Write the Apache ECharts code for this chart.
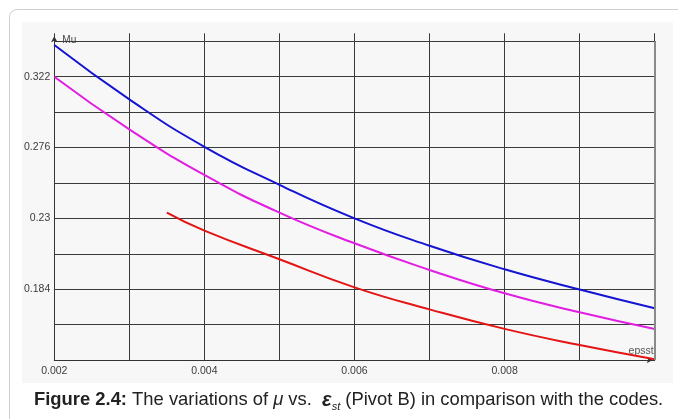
<!DOCTYPE html>
<html><head><meta charset="utf-8">
<script src="https://cdn.jsdelivr.net/npm/echarts@6/dist/echarts.min.js"></script>
<style>
html,body{margin:0;padding:0;background:#fff;width:678px;height:419px;overflow:hidden;}
#card{position:absolute;left:9px;top:9px;width:720px;height:460px;border:1px solid #cfcfcf;border-radius:8px;box-sizing:border-box;}
#panel{position:absolute;left:22px;top:22px;width:651px;height:361px;background:#f7f7f7;}
#chart{position:absolute;left:0;top:0;width:678px;height:419px;}
</style></head><body>
<div id="card"></div><div id="panel"></div><div id="chart"></div>
<script>
// x values (epsst)
const epsGrid = [0.002, 0.003, 0.004, 0.005, 0.006, 0.007, 0.008, 0.009, 0.010];
const blueMu = [0.3426, 0.3073, 0.2765, 0.2518, 0.2300, 0.2122, 0.1969, 0.1838, 0.1716];
const magentaMu = [0.3220, 0.2878, 0.2582, 0.2337, 0.2138, 0.1965, 0.1813, 0.1690, 0.1581];
const redEps = [0.0035, 0.004, 0.005, 0.006, 0.007, 0.008, 0.009, 0.010];
const redMu = [0.2337, 0.2220, 0.2034, 0.1852, 0.1709, 0.1582, 0.1477, 0.1385];
const xTickLabels = ['0.002', '0.004', '0.006', '0.008'];
const yTickLabels = ['0.184', '0.23', '0.276', '0.322'];
const majorX = [0.004, 0.008];
const edgeX = [0.010];
const xName = 'epsst';
const yName = 'Mu';

const xFmt = v => { const s = (Math.round(v * 1000) / 1000).toFixed(3); return xTickLabels.includes(s) ? s : ''; };
const yFmt = v => { const s = String(parseFloat(v.toFixed(3))); return yTickLabels.includes(s) ? s : ''; };

const chart = echarts.init(document.getElementById('chart'), null, {renderer: 'canvas'});
const FF = 'Liberation Sans, Arial, sans-serif';
const lbl = {fontFamily: FF, fontSize: 10.5, color: '#3c3c3c'};
const cap = {fontFamily: FF, fontSize: 18.4, color: '#222', lineHeight: 24, verticalAlign: 'middle', fontWeight: 'normal', fontStyle: 'normal'};
chart.setOption({
  backgroundColor: 'transparent',
  animation: false,
  title: {
    text: '{b|Figure 2.4:}{n| The variations of }{i|μ}{n| vs.  }{e|ε}{s|st}{n| (Pivot B) in comparison with the codes.}',
    left: 34, top: 388, padding: 0,
    textStyle: {
      fontWeight: 'normal',
      rich: {
        b: Object.assign({}, cap, {fontWeight: 'bold'}),
        n: Object.assign({}, cap),
        i: Object.assign({}, cap, {fontStyle: 'italic'}),
        e: Object.assign({}, cap, {fontStyle: 'italic', fontWeight: 'bold', fontSize: 20}),
        s: Object.assign({}, cap, {fontStyle: 'italic', fontSize: 11, lineHeight: 4, verticalAlign: 'bottom'})
      }
    }
  },
  grid: {left: 54.3, right: 23.3, top: 41.3, bottom: 59},
  xAxis: [{
    type: 'value', min: 0.002, max: 0.010, interval: 0.001,
    name: xName, nameLocation: 'end', nameGap: -1,
    nameTextStyle: {fontFamily: FF, fontSize: 10.5, color: '#555', align: 'right', verticalAlign: 'bottom', padding: [0, 0, 3, 0]},
    axisLine: {show: true, lineStyle: {color: '#333', width: 1}, symbol: ['none', 'arrow'], symbolSize: [5, 6], symbolOffset: [0, -2]},
    axisTick: {show: false},
    axisLabel: Object.assign({formatter: xFmt, margin: 6, showMaxLabel: true, showMinLabel: true}, lbl),
    splitLine: {show: true, lineStyle: {color: '#3a3a3a', width: 1}}
  }, {
    type: 'value', min: 0.002, max: 0.010, interval: 0.001, position: 'top',
    axisLine: {show: false},
    axisTick: {show: true, inside: false, length: 8, lineStyle: {color: '#3a3a3a', width: 1}},
    axisLabel: {show: false},
    splitLine: {show: false}
  }],
  yAxis: {
    type: 'value', min: 0.138, max: 0.345, interval: 0.023,
    name: yName, nameLocation: 'end', nameGap: 1,
    nameTextStyle: {fontFamily: FF, fontSize: 10, color: '#444', align: 'left', verticalAlign: 'middle', padding: [0, 0, 0, 8]},
    axisLine: {show: true, lineStyle: {color: '#333', width: 1}, symbol: ['none', 'arrow'], symbolSize: [5, 6], symbolOffset: [0, 5]},
    axisTick: {show: false},
    axisLabel: Object.assign({formatter: yFmt, margin: 4}, lbl),
    splitLine: {show: true, lineStyle: {color: '#3a3a3a', width: 1}}
  },
  series: [
    {
      type: 'line', name: 'blue', smooth: 0.5, showSymbol: false, silent: true,
      data: epsGrid.map((x, i) => [x, blueMu[i]]),
      lineStyle: {color: '#1414d2', width: 2},
      markLine: {
        silent: true, symbol: ['none', 'none'], label: {show: false},
        data: majorX.map(v => ({xAxis: v, lineStyle: {color: '#111', width: 2, type: 'solid'}}))
          .concat(edgeX.map(v => ({xAxis: v, lineStyle: {color: '#8a8a8a', width: 2, type: 'solid'}})))
      },
      z: 3
    },
    {
      type: 'line', name: 'magenta', smooth: 0.5, showSymbol: false, silent: true,
      data: epsGrid.map((x, i) => [x, magentaMu[i]]),
      lineStyle: {color: '#e21ee2', width: 2}, z: 3
    },
    {
      type: 'line', name: 'red', smooth: 0.5, showSymbol: false, silent: true,
      data: redEps.map((x, i) => [x, redMu[i]]),
      lineStyle: {color: '#e41414', width: 2}, z: 3
    }
  ]
});
</script>
</body></html>
